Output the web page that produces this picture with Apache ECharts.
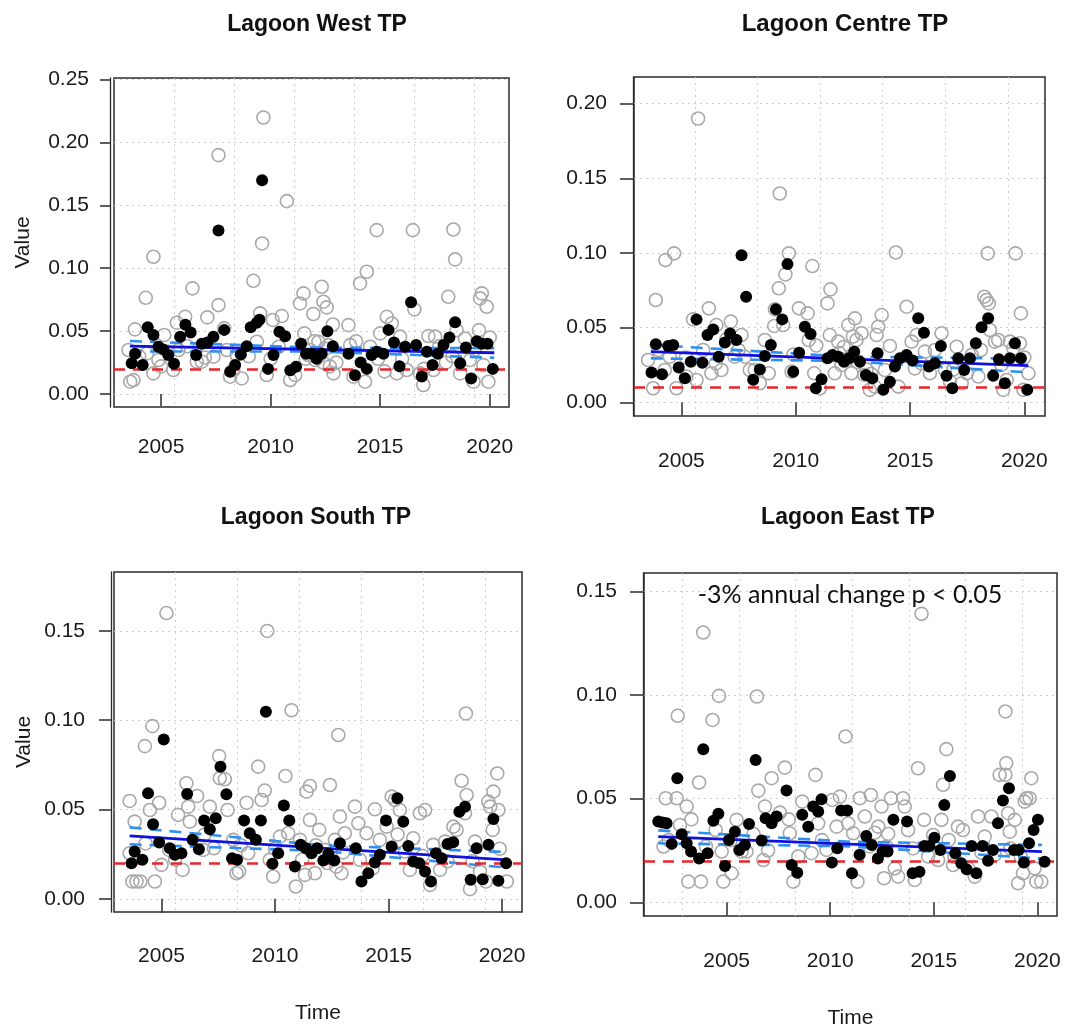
<!DOCTYPE html>
<html>
<head>
<meta charset="utf-8">
<title>Lagoon TP</title>
<script src="https://cdn.jsdelivr.net/npm/echarts@6/dist/echarts.min.js"></script>
<style>
  html, body { margin: 0; padding: 0; background: #ffffff; }
  #chart { width: 1086px; height: 1030px; }
</style>
</head>
<body>
<div id="chart"></div>
<script>
// ---- shared tick values ----
const xTickYears = [2005, 2010, 2015, 2020];
// dotted vertical guides fall on every 1000 days since 1970-01-01
const guideDays = [12000, 13000, 14000, 15000, 16000, 17000, 18000];
const guideYears = guideDays.map(d => 1970 + d / 365.25);

// ---- Lagoon West TP ----
const westTicks = [0, 0.05, 0.10, 0.15, 0.20, 0.25];
const westThreshold = 0.0177;
const westTrend = [[2003.58, 0.0381], [2020.21, 0.0328]];
const westUpper = [[2003.58, 0.0421], [2012.0, 0.0369], [2020.21, 0.0365]];
const westLower = [[2003.58, 0.0338], [2012.0, 0.0339], [2020.21, 0.0288]];
const westBlack = [
  [2003.66,0.0244],[2003.81,0.032],[2004.16,0.023],[2004.39,0.053],[2004.65,0.047],[2004.88,0.0376],
  [2005.10,0.0355],[2005.33,0.031],[2005.59,0.024],[2005.87,0.0455],[2006.11,0.055],[2006.35,0.049],
  [2006.60,0.031],[2006.86,0.040],[2007.11,0.041],[2007.39,0.0455],[2007.62,0.130],[2007.88,0.051],
  [2008.15,0.0177],[2008.38,0.023],[2008.64,0.0315],[2008.91,0.038],[2009.09,0.053],[2009.37,0.0567],
  [2009.49,0.059],[2009.61,0.170],[2009.88,0.020],[2010.13,0.031],[2010.40,0.0495],[2010.66,0.046],
  [2010.90,0.019],[2011.16,0.0217],[2011.39,0.040],[2011.62,0.032],[2011.88,0.032],[2012.10,0.028],
  [2012.33,0.032],[2012.59,0.050],[2012.84,0.038],[2013.55,0.032],[2013.85,0.015],[2014.11,0.025],
  [2014.39,0.020],[2014.61,0.031],[2014.84,0.0336],[2015.15,0.032],[2015.38,0.051],[2015.63,0.041],
  [2015.88,0.022],[2016.14,0.0376],[2016.41,0.073],[2016.64,0.039],[2016.90,0.014],[2017.13,0.0336],
  [2017.39,0.023],[2017.63,0.032],[2017.89,0.039],[2018.16,0.045],[2018.42,0.057],[2018.65,0.0244],
  [2018.91,0.037],[2019.15,0.0124],[2019.41,0.042],[2019.64,0.040],[2019.90,0.040],[2020.14,0.020]
];
const westGrey = [
  [2003.59,0.0098],[2003.74,0.0111],[2003.51,0.035],[2003.81,0.0514],[2004.30,0.0765],[2004.65,0.1091],
  [2004.35,0.0323],[2004.65,0.0164],[2004.88,0.027],[2005.14,0.0469],[2005.33,0.0336],[2005.56,0.0191],
  [2005.72,0.0567],[2005.79,0.035],[2006.10,0.0614],[2006.43,0.084],[2006.63,0.0257],[2006.86,0.0257],
  [2007.11,0.0609],[2007.39,0.0297],[2007.62,0.0707],[2007.62,0.1899],[2007.88,0.0522],[2008.15,0.0138],
  [2008.30,0.0191],[2008.45,0.031],[2008.68,0.0124],[2009.21,0.090],[2009.37,0.0416],[2009.52,0.0641],
  [2009.61,0.1197],[2009.67,0.2198],[2009.82,0.0151],[2010.10,0.0588],[2010.37,0.0376],[2010.51,0.062],
  [2010.74,0.1533],[2010.89,0.0111],[2011.12,0.0151],[2011.34,0.072],[2011.50,0.080],[2011.54,0.0482],
  [2011.72,0.031],[2011.95,0.0636],[2012.03,0.027],[2012.18,0.0416],[2012.33,0.0853],[2012.41,0.0734],
  [2012.56,0.0689],[2012.64,0.0389],[2012.84,0.0553],[2012.87,0.0164],[2013.55,0.0548],[2013.63,0.0389],
  [2013.78,0.0138],[2014.08,0.0879],[2014.39,0.0972],[2014.31,0.0098],[2014.54,0.0376],[2014.84,0.1303],
  [2015.00,0.0482],[2015.30,0.0614],[2015.53,0.0561],[2015.76,0.0164],[2015.91,0.0456],[2016.21,0.0191],
  [2016.49,0.1303],[2016.56,0.0673],[2016.82,0.0164],[2016.97,0.0072],[2017.20,0.0461],[2017.43,0.0191],
  [2017.51,0.0456],[2018.11,0.0773],[2018.34,0.1308],[2018.42,0.107],[2018.49,0.0508],[2018.65,0.0164],
  [2018.87,0.0442],[2019.10,0.027],[2019.26,0.0098],[2019.51,0.0508],[2019.64,0.080],[2019.56,0.076],
  [2019.86,0.0694],[2019.94,0.0098],[2019.71,0.023],
  [2011.80,0.035],[2012.00,0.042],[2012.20,0.030],[2012.40,0.025],[2012.50,0.036],[2011.60,0.028],
  [2012.70,0.022],[2013.00,0.025],[2004.00,0.030],[2006.20,0.038],[2007.00,0.029],[2008.00,0.035],
  [2009.00,0.030],[2010.00,0.028],[2013.90,0.042],[2014.90,0.028],[2016.00,0.028],[2017.00,0.020],
  [2017.70,0.038],[2018.30,0.030],[2019.30,0.035],[2020.00,0.045],[2005.00,0.022],[2015.20,0.018],[2018.00,0.025]
];

// ---- Lagoon Centre TP ----
const centreTicks = [0, 0.05, 0.10, 0.15, 0.20];
const centreThreshold = 0.0111;
const centreTrend = [[2003.66, 0.0339], [2020.18, 0.0245]];
const centreUpper = [[2003.66, 0.0385], [2012.0, 0.0307], [2020.18, 0.0292]];
const centreLower = [[2003.66, 0.0294], [2012.0, 0.0277], [2020.18, 0.0200]];
const centreBlack = [
  [2003.69,0.020],[2003.88,0.0388],[2004.15,0.0187],[2004.42,0.0377],[2004.64,0.0383],[2004.88,0.0232],
  [2005.15,0.016],[2005.41,0.0272],[2005.66,0.0555],[2005.92,0.0265],[2006.14,0.045],[2006.39,0.0488],
  [2006.63,0.0305],[2006.90,0.040],[2007.13,0.046],[2007.41,0.0417],[2007.63,0.0985],[2007.83,0.0707],
  [2008.14,0.015],[2008.43,0.022],[2008.65,0.031],[2008.91,0.0383],[2009.13,0.0622],[2009.41,0.0555],
  [2009.64,0.0925],[2009.89,0.0205],[2010.15,0.0332],[2010.40,0.0506],[2010.65,0.0457],[2010.88,0.0094],
  [2011.13,0.0154],[2011.39,0.0294],[2011.61,0.0317],[2011.86,0.0305],[2012.11,0.0272],[2012.33,0.0294],
  [2012.56,0.0339],[2012.81,0.0272],[2013.07,0.0183],[2013.35,0.016],[2013.58,0.0328],[2013.83,0.0083],
  [2014.12,0.0138],[2014.34,0.0239],[2014.56,0.0294],[2014.85,0.0317],[2015.11,0.0279],[2015.36,0.0562],
  [2015.61,0.0466],[2015.83,0.0239],[2016.09,0.0261],[2016.35,0.0377],[2016.60,0.0178],[2016.85,0.0094],
  [2017.11,0.0294],[2017.37,0.0216],[2017.62,0.0294],[2017.88,0.0395],[2018.13,0.0502],[2018.42,0.0562],
  [2018.64,0.0178],[2018.89,0.0288],[2019.15,0.0127],[2019.37,0.0294],[2019.59,0.0395],[2019.85,0.0294],
  [2020.13,0.0083]
];
const centreGrey = [
  [2003.54,0.0283],[2003.76,0.0094],[2003.88,0.0685],[2004.30,0.0952],[2004.68,0.0997],[2004.27,0.0216],
  [2004.49,0.0305],[2004.78,0.0094],[2005.22,0.0172],[2005.51,0.0555],[2005.66,0.0149],[2005.73,0.190],
  [2005.95,0.035],[2006.20,0.0629],[2006.31,0.0194],[2006.53,0.0517],[2006.75,0.0216],[2006.97,0.0421],
  [2007.16,0.054],[2007.33,0.0305],[2007.63,0.045],[2007.77,0.0305],[2007.99,0.0216],[2008.21,0.0216],
  [2008.43,0.0127],[2008.65,0.0417],[2008.82,0.0194],[2009.06,0.0511],[2009.09,0.0622],[2009.30,0.1398],
  [2009.26,0.0763],[2009.45,0.0517],[2009.55,0.0856],[2009.70,0.0997],[2009.82,0.0205],[2010.14,0.0629],
  [2010.52,0.0595],[2010.57,0.0417],[2010.73,0.0912],[2010.81,0.0194],[2011.06,0.0094],[2011.39,0.0662],
  [2011.52,0.0756],[2011.49,0.045],[2011.71,0.0194],[2011.86,0.0406],[2012.00,0.025],[2012.22,0.0283],
  [2012.30,0.0517],[2012.44,0.0194],[2012.59,0.0562],[2012.66,0.0417],[2012.88,0.0462],[2013.00,0.0183],
  [2013.24,0.0083],[2013.46,0.0105],[2013.54,0.045],[2013.61,0.0506],[2013.76,0.0584],[2013.90,0.0216],
  [2014.12,0.0377],[2014.38,0.1003],[2014.49,0.0105],[2014.85,0.064],[2015.07,0.0406],[2015.21,0.0227],
  [2015.29,0.045],[2015.65,0.0339],[2015.87,0.0194],[2016.09,0.035],[2016.38,0.0462],[2016.53,0.0216],
  [2016.75,0.0138],[2017.04,0.0372],[2017.26,0.0127],[2017.48,0.0194],[2017.70,0.0317],[2017.99,0.0172],
  [2018.25,0.0707],[2018.35,0.0685],[2018.45,0.0662],[2018.40,0.0997],[2018.50,0.0484],[2018.72,0.0406],
  [2018.86,0.0417],[2019.08,0.0083],[2019.23,0.0149],[2019.37,0.0406],[2019.52,0.0361],[2019.62,0.0997],
  [2019.85,0.0595],[2019.81,0.0395],[2019.96,0.0083],[2020.18,0.0194],
  [2011.90,0.033],[2012.10,0.037],[2012.40,0.031],[2012.50,0.044],[2012.70,0.027],[2013.10,0.022],
  [2013.30,0.019],[2006.50,0.026],[2004.00,0.035],[2005.20,0.030],[2007.50,0.035],[2009.90,0.032],
  [2010.90,0.038],[2015.50,0.026],[2016.90,0.022],[2018.10,0.035],[2019.00,0.025],[2020.00,0.030]
];

// ---- Lagoon South TP ----
const southTicks = [0, 0.05, 0.10, 0.15];
const southThreshold = 0.0157;
const southTrend = [[2003.6, 0.0352], [2020.2, 0.0218]];
const southUpper = [[2003.6, 0.0400], [2012.0, 0.0300], [2020.2, 0.0262]];
const southLower = [[2003.6, 0.0305], [2012.0, 0.0268], [2020.2, 0.0175]];
const southBlack = [
  [2003.68,0.0199],[2003.82,0.0265],[2004.16,0.0218],[2004.41,0.0591],[2004.63,0.0417],[2004.90,0.0315],
  [2005.10,0.0892],[2005.37,0.0283],[2005.59,0.0246],[2005.88,0.0255],[2006.13,0.0587],[2006.37,0.033],
  [2006.65,0.0278],[2006.88,0.0438],[2007.13,0.0389],[2007.39,0.0451],[2007.60,0.074],[2007.86,0.0585],
  [2008.11,0.0227],[2008.33,0.0218],[2008.64,0.0438],[2008.89,0.0367],[2009.16,0.033],[2009.38,0.0438],
  [2009.60,0.1047],[2009.89,0.0196],[2010.14,0.0255],[2010.39,0.0522],[2010.63,0.0438],[2010.88,0.0181],
  [2011.13,0.0302],[2011.36,0.0283],[2011.61,0.0255],[2011.86,0.0283],[2012.13,0.0214],[2012.35,0.0252],
  [2012.61,0.0214],[2012.86,0.0311],[2013.56,0.0283],[2013.81,0.0097],[2014.11,0.0143],[2014.40,0.0203],
  [2014.62,0.0246],[2014.89,0.0438],[2015.14,0.0293],[2015.39,0.0563],[2015.65,0.0432],[2015.87,0.0296],
  [2016.09,0.0209],[2016.36,0.0199],[2016.61,0.0153],[2016.87,0.0097],[2017.09,0.0255],[2017.34,0.0227],
  [2017.60,0.0307],[2017.85,0.0317],[2018.12,0.0488],[2018.37,0.0516],[2018.62,0.0106],[2018.88,0.0283],
  [2019.15,0.011],[2019.40,0.0302],[2019.62,0.0447],[2019.84,0.0101],[2020.18,0.0199]
];
const southGrey = [
  [2003.60,0.0548],[2003.82,0.0432],[2003.72,0.0097],[2003.90,0.0097],[2004.07,0.0097],[2003.60,0.0255],
  [2004.27,0.0855],[2004.60,0.0967],[2004.49,0.0497],[2004.90,0.0538],[2004.71,0.0097],[2005.00,0.019],
  [2005.22,0.160],[2005.34,0.0274],[2005.73,0.047],[2005.93,0.0162],[2006.10,0.0647],[2006.18,0.0516],
  [2006.25,0.0432],[2006.57,0.0576],[2006.84,0.0274],[2007.13,0.0516],[2007.31,0.0283],[2007.54,0.0799],
  [2007.57,0.0675],[2007.79,0.0669],[2007.91,0.0497],[2008.16,0.033],[2008.31,0.0143],[2008.42,0.0153],
  [2008.75,0.0538],[2008.82,0.0255],[2009.26,0.074],[2009.41,0.0553],[2009.55,0.0606],[2009.66,0.150],
  [2009.77,0.0218],[2009.92,0.0125],[2010.22,0.0348],[2010.46,0.0688],[2010.58,0.0367],[2010.73,0.1056],
  [2010.92,0.0069],[2011.10,0.033],[2011.32,0.0134],[2011.39,0.060],[2011.54,0.0632],[2011.54,0.0442],
  [2011.76,0.0143],[2011.95,0.0386],[2012.20,0.0274],[2012.42,0.0637],[2012.64,0.033],[2012.79,0.0917],
  [2012.86,0.046],[2012.93,0.0143],[2013.08,0.0367],[2013.52,0.0516],[2013.67,0.0423],[2013.74,0.0218],
  [2014.03,0.0367],[2014.40,0.0501],[2014.62,0.033],[2014.92,0.0404],[2015.14,0.0572],[2015.28,0.0553],
  [2015.50,0.0497],[2015.72,0.0265],[2015.94,0.0162],[2016.09,0.0339],[2016.38,0.0479],[2016.61,0.0497],
  [2016.83,0.0078],[2016.97,0.0302],[2017.27,0.0162],[2017.49,0.032],[2017.86,0.0404],[2018.00,0.0386],
  [2018.22,0.0661],[2018.41,0.1038],[2018.44,0.0581],[2018.37,0.0479],[2018.59,0.0054],[2018.81,0.032],
  [2019.03,0.0153],[2019.29,0.0097],[2019.40,0.0544],[2019.62,0.060],[2019.59,0.0386],[2019.79,0.0702],
  [2019.84,0.0497],[2019.48,0.0516],[2020.21,0.0097],
  [2011.20,0.022],[2011.80,0.030],[2012.30,0.020],[2012.70,0.018],[2013.00,0.026],[2006.90,0.036],
  [2008.50,0.030],[2010.00,0.028],[2014.30,0.017],[2015.40,0.036],[2016.50,0.024],[2017.60,0.021],
  [2018.70,0.021],[2019.90,0.028],[2004.30,0.031],[2005.60,0.022]
];

// ---- Lagoon East TP ----
const eastTicks = [0, 0.05, 0.10, 0.15];
const eastThreshold = 0.0159;
const eastTrend = [[2001.7, 0.0317], [2020.22, 0.0245]];
const eastUpper = [[2001.7, 0.0347], [2011.0, 0.0292], [2020.22, 0.0277]];
const eastLower = [[2001.7, 0.0285], [2011.0, 0.0270], [2020.22, 0.0211]];
const eastBlack = [
  [2001.70,0.039],[2001.90,0.0385],[2002.10,0.0381],[2002.35,0.0282],[2002.62,0.0599],[2002.83,0.0328],
  [2003.07,0.0285],[2003.28,0.0245],[2003.67,0.0212],[2003.87,0.0739],[2004.08,0.0237],[2004.36,0.0394],
  [2004.60,0.0427],[2004.92,0.0175],[2005.11,0.0301],[2005.40,0.0341],[2005.61,0.0253],[2005.88,0.0277],
  [2006.08,0.0378],[2006.40,0.0687],[2006.69,0.0298],[2006.88,0.0406],[2007.17,0.0381],[2007.41,0.0414],
  [2007.89,0.0539],[2008.14,0.018],[2008.41,0.0143],[2008.65,0.0422],[2008.94,0.0365],[2009.18,0.0462],
  [2009.42,0.0438],[2009.58,0.0497],[2010.08,0.0192],[2010.34,0.0261],[2010.53,0.0443],[2010.82,0.0443],
  [2011.05,0.014],[2011.42,0.0229],[2011.74,0.032],[2012.01,0.0277],[2012.30,0.0212],[2012.53,0.0245],
  [2012.77,0.0245],[2013.05,0.0398],[2013.71,0.039],[2013.98,0.014],[2014.31,0.0148],[2014.55,0.0272],
  [2014.79,0.0272],[2015.03,0.0312],[2015.32,0.0253],[2015.51,0.047],[2015.78,0.061],[2016.04,0.0237],
  [2016.33,0.0188],[2016.59,0.0159],[2016.83,0.0272],[2017.06,0.014],[2017.36,0.0272],[2017.62,0.0201],
  [2017.86,0.0253],[2018.10,0.0381],[2018.34,0.0491],[2018.63,0.055],[2018.87,0.0253],[2019.10,0.0253],
  [2019.35,0.0192],[2019.60,0.0285],[2019.82,0.0349],[2020.03,0.0398],[2020.35,0.0196]
];
const eastGrey = [
  [2001.95,0.0269],[2002.06,0.0502],[2002.59,0.0502],[2002.64,0.090],[2002.75,0.0373],[2003.07,0.0462],
  [2003.15,0.010],[2003.67,0.0578],[2003.76,0.010],[2003.87,0.1302],[2004.32,0.088],[2004.63,0.0996],
  [2004.47,0.0349],[2004.76,0.0245],[2004.84,0.010],[2005.24,0.014],[2005.48,0.0398],[2005.72,0.0245],
  [2005.96,0.0245],[2006.53,0.0539],[2006.46,0.0993],[2006.77,0.0204],[2006.85,0.0462],[2007.17,0.0599],
  [2007.57,0.0433],[2007.81,0.065],[2008.05,0.0333],[2008.22,0.010],[2008.46,0.0221],[2008.65,0.0486],
  [2009.10,0.0237],[2009.29,0.0615],[2009.42,0.0381],[2009.82,0.0253],[2010.10,0.0494],[2010.31,0.0365],
  [2010.47,0.051],[2010.74,0.080],[2010.87,0.0381],[2011.11,0.0333],[2011.32,0.010],[2011.43,0.0502],
  [2011.67,0.0414],[2011.96,0.0518],[2012.15,0.0336],[2012.32,0.0365],[2012.48,0.0462],[2012.60,0.0116],
  [2012.72,0.0269],[2012.93,0.0502],[2013.12,0.0164],[2013.28,0.0124],[2013.52,0.0502],[2013.60,0.0462],
  [2013.76,0.0349],[2014.08,0.0108],[2014.24,0.0647],[2014.41,0.1392],[2014.53,0.0398],[2014.73,0.0221],
  [2014.97,0.0325],[2015.21,0.0204],[2015.37,0.0398],[2015.45,0.0567],[2015.61,0.0739],[2015.72,0.0301],
  [2015.93,0.018],[2016.17,0.0365],[2016.41,0.0349],[2016.66,0.0164],[2016.98,0.0124],[2017.14,0.0414],
  [2017.46,0.0317],[2017.78,0.0414],[2017.94,0.0229],[2018.18,0.0615],[2018.46,0.0921],[2018.50,0.0671],
  [2018.46,0.0615],[2018.59,0.043],[2018.67,0.0341],[2018.91,0.0398],[2019.07,0.0092],[2019.31,0.014],
  [2019.39,0.0486],[2019.47,0.0502],[2019.71,0.0599],[2019.63,0.0502],[2019.87,0.0164],[2019.95,0.010],
  [2020.19,0.010],
  [2002.20,0.030],[2003.30,0.040],[2004.00,0.027],[2005.20,0.030],[2006.30,0.033],[2007.00,0.025],
  [2008.00,0.040],[2009.60,0.030],[2011.90,0.027],[2012.80,0.033],[2014.00,0.026],[2016.00,0.022],
  [2017.30,0.024],[2018.70,0.026],[2019.20,0.022]
];

// ---- panel layout (pixel boxes and axis extents) ----
const panels = [
  { title: 'Lagoon West TP', titleX: 312, titleY: 8, titleSize: 23,
    grey: westGrey, black: westBlack, trend: westTrend, upper: westUpper, lower: westLower,
    threshold: westThreshold, yTicks: westTicks,
    box: { left: 114, top: 78, width: 395, height: 329 },
    xRange: [2002.85, 2020.88], yRange: [-0.0103, 0.2512],
    yOff: 4, yTick: 10, yMargin: 21, xOff: 1, xTick: 12, xMargin: 29, xNameGap: 87,
    yName: 'Value', xName: '' },
  { title: 'Lagoon Centre TP', titleX: 840, titleY: 7, titleSize: 24,
    grey: centreGrey, black: centreBlack, trend: centreTrend, upper: centreUpper, lower: centreLower,
    threshold: centreThreshold, yTicks: centreTicks,
    box: { left: 634, top: 77, width: 411, height: 339 },
    xRange: [2002.925, 2020.906], yRange: [-0.0092, 0.2178],
    yOff: 1, yTick: 13, yMargin: 26, xOff: 1, xTick: 13, xMargin: 34, xNameGap: 87,
    yName: '', xName: '' },
  { title: 'Lagoon South TP', titleX: 311, titleY: 501, titleSize: 23,
    grey: southGrey, black: southBlack, trend: southTrend, upper: southUpper, lower: southLower,
    threshold: southThreshold, yTicks: southTicks,
    box: { left: 114, top: 572, width: 408, height: 340 },
    xRange: [2002.91, 2020.88], yRange: [-0.0074, 0.183],
    yOff: 3, yTick: 12, yMargin: 26, xOff: 1, xTick: 14, xMargin: 33, xNameGap: 90,
    yName: 'Value', xName: 'Time' },
  { title: 'Lagoon East TP', titleX: 843, titleY: 501, titleSize: 23,
    grey: eastGrey, black: eastBlack, trend: eastTrend, upper: eastUpper, lower: eastLower,
    threshold: eastThreshold, yTicks: eastTicks,
    box: { left: 644, top: 573, width: 413, height: 343 },
    xRange: [2001.01, 2020.95], yRange: [-0.0066, 0.1589],
    yOff: 1, yTick: 13, yMargin: 26, xOff: 1, xTick: 13, xMargin: 34, xNameGap: 91,
    yName: '', xName: 'Time' }
];

const FONT = '"Liberation Sans", Arial, Helvetica, sans-serif';
const INK = '#1a1a1a';
const GUIDE = { color: '#cfcfcf', width: 1, type: [2, 4] };

const grids = [], xAxes = [], yAxes = [], series = [], titles = [];

panels.forEach((p, i) => {
  grids.push(Object.assign({
    show: true, borderColor: '#2b2b2b', borderWidth: 1.5, backgroundColor: 'transparent',
    containLabel: false, outerBoundsMode: 'none'
  }, p.box));

  titles.push({
    text: p.title, left: p.titleX, top: p.titleY, textAlign: 'center',
    textStyle: { fontFamily: FONT, fontSize: p.titleSize, fontWeight: 'bold', color: '#111' }
  });

  // main time axis: ticks and labels at whole 5-year marks
  xAxes.push({
    gridIndex: i, type: 'value', position: 'bottom',
    min: p.xRange[0], max: p.xRange[1], offset: p.xOff,
    axisLine: { show: false },
    axisTick: { show: true, length: p.xTick, customValues: xTickYears,
      lineStyle: { color: '#2b2b2b', width: 1.5 } },
    axisLabel: { show: true, customValues: xTickYears, margin: p.xMargin,
      fontFamily: FONT, fontSize: 21, color: INK, formatter: v => String(Math.round(v)) },
    splitLine: { show: false },
    name: p.xName, nameLocation: 'middle', nameGap: p.xNameGap, nameMoveOverlap: false,
    nameTextStyle: { fontFamily: FONT, fontSize: 21, color: INK }
  });
  // companion axis carrying the dotted vertical guides
  const guides = guideYears.filter(v => v > p.xRange[0] + 0.05 && v < p.xRange[1] - 0.05);
  xAxes.push({
    gridIndex: i, type: 'value', position: 'bottom',
    min: p.xRange[0], max: p.xRange[1],
    axisLine: { show: false },
    axisTick: { show: false, customValues: guides },
    axisLabel: { show: false, customValues: guides },
    splitLine: { show: true, lineStyle: GUIDE }
  });

  yAxes.push({
    gridIndex: i, type: 'value', position: 'left',
    min: p.yRange[0], max: p.yRange[1], offset: p.yOff,
    axisLine: { show: true, lineStyle: { color: '#2b2b2b', width: 1.3 } },
    axisTick: { show: true, length: p.yTick, customValues: p.yTicks,
      lineStyle: { color: '#2b2b2b', width: 1.5 } },
    axisLabel: { show: true, customValues: p.yTicks, margin: p.yMargin,
      fontFamily: FONT, fontSize: 21, color: INK, formatter: v => v.toFixed(2) },
    splitLine: { show: true, lineStyle: GUIDE },
    name: p.yName, nameLocation: 'middle', nameGap: 76, nameMoveOverlap: false,
    nameTextStyle: { fontFamily: FONT, fontSize: 21, color: INK }
  });

  const xi = i * 2, yi = i;

  series.push({
    type: 'scatter', xAxisIndex: xi, yAxisIndex: yi, data: p.grey, z: 2, silent: true,
    symbol: 'circle', symbolSize: 13,
    itemStyle: { color: 'rgba(0,0,0,0)', borderColor: '#a9a9a9', borderWidth: 1.6, opacity: 1 }
  });
  series.push({
    type: 'line', xAxisIndex: xi, yAxisIndex: yi, data: [], z: 3, silent: true,
    markLine: {
      silent: true, symbol: ['none', 'none'], label: { show: false },
      lineStyle: { color: '#e8262b', width: 2.6, type: [11, 8] },
      data: [{ yAxis: p.threshold }]
    }
  });
  [p.upper, p.lower].forEach(band => {
    series.push({
      type: 'line', xAxisIndex: xi, yAxisIndex: yi, data: band, z: 4, silent: true,
      showSymbol: false, symbol: 'none',
      lineStyle: { color: '#2f8ef0', width: 2.6, type: [12, 8] }
    });
  });
  series.push({
    type: 'line', xAxisIndex: xi, yAxisIndex: yi, data: p.trend, z: 5, silent: true,
    showSymbol: false, symbol: 'none',
    lineStyle: { color: '#1010e0', width: 2.8 }
  });
  series.push({
    type: 'scatter', xAxisIndex: xi, yAxisIndex: yi, data: p.black, z: 6, silent: true,
    symbol: 'circle', symbolSize: 12,
    itemStyle: { color: '#000000', opacity: 1 }
  });
});

titles.push({
  text: '-3% annual change p < 0.05', left: 845, top: 577, textAlign: 'center',
  textStyle: { fontFamily: 'Lato, "Open Sans", sans-serif', fontSize: 25, fontWeight: 'normal', color: '#111' }
});

const chart = echarts.init(document.getElementById('chart'), null, { renderer: 'canvas' });
chart.setOption({
  animation: false,
  backgroundColor: '#ffffff',
  title: titles,
  grid: grids,
  xAxis: xAxes,
  yAxis: yAxes,
  tooltip: { show: false },
  series: series
});
</script>
</body>
</html>
